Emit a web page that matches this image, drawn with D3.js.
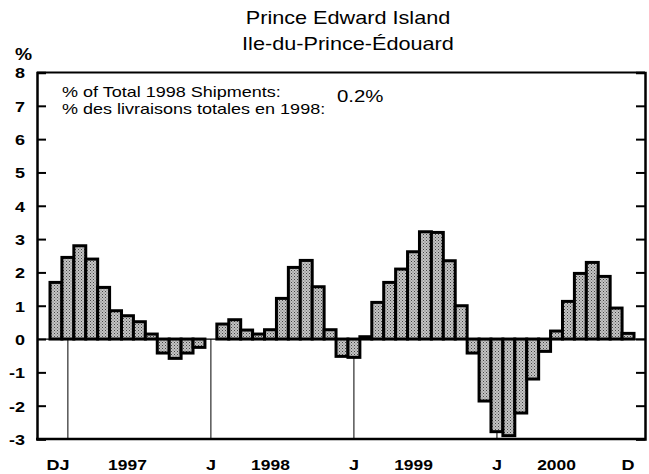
<!DOCTYPE html>
<html><head><meta charset="utf-8">
<script src="https://cdn.jsdelivr.net/npm/d3@7"></script>
<style>body{margin:0;background:#fff}svg{display:block}text{font-family:"Liberation Sans",Arial,sans-serif;fill:#000}</style>
</head><body><div id="chart"></div>
<script>
const months = ["D96","J97","F97","M97","A97","M97","J97","J97","A97","S97","O97","N97","D97",
"J98","F98","M98","A98","M98","J98","J98","A98","S98","O98","N98","D98",
"J99","F99","M99","A99","M99","J99","J99","A99","S99","O99","N99","D99",
"J00","F00","M00","A00","M00","J00","J00","A00","S00","O00","N00","D00"];
const values = [1.7,
2.45,2.8,2.4,1.55,0.85,0.7,0.52,0.15,-0.42,-0.58,-0.42,-0.25,
0,0.45,0.58,0.27,0.15,0.28,1.22,2.15,2.36,1.57,0.28,-0.52,
-0.55,0.07,1.1,1.7,2.1,2.62,3.22,3.2,2.35,1.0,-0.42,-1.86,
-2.78,-2.9,-2.22,-1.2,-0.37,0.24,1.13,1.97,2.3,1.88,0.93,0.17];
const yTicks = [-3,-2,-1,0,1,2,3,4,5,6,7,8];
const janIdx = [1,13,25,37];
const monthLabels = [{i:13,t:"J"},{i:25,t:"J"},{i:37,t:"J"},{i:48,t:"D"}];
const yearLabels = [{i:6,t:"1997"},{i:18,t:"1998"},{i:30,t:"1999"},{i:42,t:"2000"}];
const titles = ["Prince Edward Island","Ile-du-Prince-Édouard"];
const noteLines = ["% of Total 1998 Shipments:","% des livraisons totales en 1998:"];
const noteValue = "0.2%";

const W=649,H=474, L=37, R=645, T=72.5, B=439;
const SX=1.2;
const svg=d3.select("#chart").append("svg").attr("width",W).attr("height",H);
const defs=svg.append("defs");
const pat=defs.append("pattern").attr("id","dots").attr("width",3).attr("height",3).attr("patternUnits","userSpaceOnUse");
pat.append("rect").attr("width",3).attr("height",3).attr("fill","#c4c4c4");
pat.append("rect").attr("x",0).attr("y",0).attr("width",1).attr("height",1).attr("fill","#444");
pat.append("rect").attr("x",1.5).attr("y",1.5).attr("width",1).attr("height",1).attr("fill","#666");

const x=d3.scaleBand().domain(d3.range(values.length)).range([50,634]).padding(0);
const y=d3.scaleLinear().domain([-3,8]).range([B,T]);

function stretch(sel,k){sel.each(function(){const w=this.getComputedTextLength();d3.select(this).attr("textLength",w*(k||SX)).attr("lengthAdjust","spacingAndGlyphs");});return sel;}

// zero line
svg.append("line").attr("x1",L).attr("x2",R).attr("y1",y(0)).attr("y2",y(0)).attr("stroke","#000").attr("stroke-width",1.2);
// January verticals
svg.selectAll(".jl").data(janIdx).join("line").attr("x1",d=>x(d)+x.bandwidth()/2).attr("x2",d=>x(d)+x.bandwidth()/2)
 .attr("y1",y(0)).attr("y2",B).attr("stroke","#000").attr("stroke-width",1);
// bars
svg.selectAll(".bar").data(values).join("rect")
 .attr("x",(d,i)=>x(i)).attr("width",x.bandwidth())
 .attr("y",d=>y(Math.max(0,d))).attr("height",d=>Math.abs(y(d)-y(0)))
 .attr("fill","url(#dots)").attr("stroke","#000").attr("stroke-width",d=>d===0?0:3);

// frame
svg.append("line").attr("x1",L).attr("x2",R).attr("y1",T).attr("y2",T).attr("stroke","#000").attr("stroke-width",2);
svg.append("line").attr("x1",L-1).attr("x2",R+1).attr("y1",B).attr("y2",B).attr("stroke","#000").attr("stroke-width",2.5);
// axes
const yl=d3.axisLeft(y).tickValues(yTicks).tickSize(-9).tickPadding(12).tickFormat(d=>String(d));
const gl=svg.append("g").attr("transform",`translate(${L},0)`).call(yl);
gl.select(".domain").attr("stroke-width",2.5);
gl.selectAll(".tick line").attr("stroke-width",2);
gl.selectAll(".tick text").attr("font-size",15).attr("font-weight","bold").attr("font-family",'"Liberation Sans",Arial,sans-serif').attr("dy","0.36em").call(stretch);
const yr=d3.axisRight(y).tickValues(yTicks).tickSize(-9).tickFormat("");
const gr=svg.append("g").attr("transform",`translate(${R},0)`).call(yr);
gr.select(".domain").attr("stroke-width",2.5);
gr.selectAll(".tick line").attr("stroke-width",2);

// % label
svg.append("text").attr("x",15).attr("y",60).attr("font-size",16).attr("font-weight","bold").text("%").call(stretch);

// x labels
svg.append("text").attr("x",x(1)-4).attr("y",470).attr("text-anchor","middle").attr("font-size",15).attr("font-weight","bold").text("DJ").call(stretch);
svg.selectAll(".ml").data(monthLabels).join("text").attr("x",d=>x(d.i)+x.bandwidth()/2).attr("y",470)
 .attr("text-anchor","middle").attr("font-size",15).attr("font-weight","bold").text(d=>d.t).call(stretch);
svg.selectAll(".yl").data(yearLabels).join("text").attr("x",d=>x(d.i)+x.bandwidth()/2).attr("y",470)
 .attr("text-anchor","middle").attr("font-size",14.5).attr("font-weight","bold").text(d=>d.t).call(stretch);

// titles
svg.selectAll(".title").data(titles).join("text").attr("x",348).attr("y",(d,i)=>24+i*26)
 .attr("text-anchor","middle").attr("font-size",18.5).text(d=>d).call(stretch,1.17);

// note
svg.selectAll(".note").data(noteLines).join("text").attr("x",62).attr("y",(d,i)=>97+i*17)
 .attr("font-size",15).text(d=>d).call(stretch);
svg.append("text").attr("x",337).attr("y",102).attr("font-size",17).text(noteValue).call(stretch);
</script></body></html>
